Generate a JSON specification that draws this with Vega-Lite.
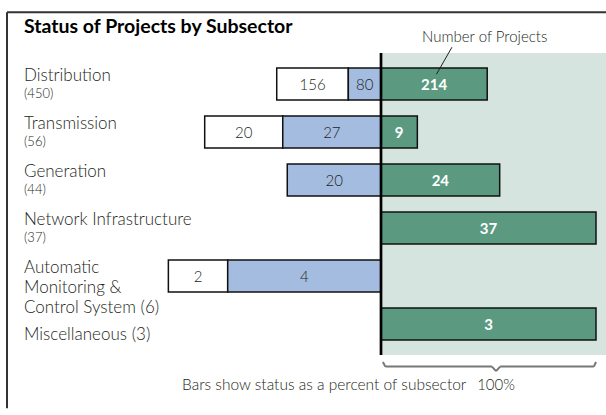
{
  "$schema": "https://vega.github.io/schema/vega-lite/v6.json",
  "width": 606,
  "height": 312,
  "autosize": {"type": "none"},
  "padding": {"top": 48, "left": 0, "right": 0, "bottom": 55},
  "background": "white",
  "title": {"text": "Status of Projects by Subsector", "anchor": "start", "frame": "group", "offset": -41, "dx": 24, "baseline": "alphabetic", "font": "Lato", "fontSize": 19.5, "fontWeight": "bold", "color": "#000000"},
  "config": {"view": {"stroke": null}, "text": {"font": "Lato"}},
  "datasets": {
    "segments": [
      {"row": 0, "subsector": "Distribution", "status": "white", "lo": -48.5, "hi": -15.2, "n": 156},
      {"row": 0, "subsector": "Distribution", "status": "blue", "lo": -15.2, "hi": 0, "n": 80},
      {"row": 0, "subsector": "Distribution", "status": "green", "lo": 0, "hi": 49.4, "n": 214},
      {"row": 1, "subsector": "Transmission", "status": "white", "lo": -82.0, "hi": -45.7, "n": 20},
      {"row": 1, "subsector": "Transmission", "status": "blue", "lo": -45.7, "hi": 0, "n": 27},
      {"row": 1, "subsector": "Transmission", "status": "green", "lo": 0, "hi": 16.9, "n": 9},
      {"row": 2, "subsector": "Generation", "status": "blue", "lo": -43.6, "hi": 0, "n": 20},
      {"row": 2, "subsector": "Generation", "status": "green", "lo": 0, "hi": 55.2, "n": 24},
      {"row": 3, "subsector": "Network Infrastructure", "status": "green", "lo": 0, "hi": 100, "n": 37},
      {"row": 4, "subsector": "Automatic Monitoring & Control System", "status": "white", "lo": -98.9, "hi": -71.3, "n": 2},
      {"row": 4, "subsector": "Automatic Monitoring & Control System", "status": "blue", "lo": -71.3, "hi": 0, "n": 4},
      {"row": 5, "subsector": "Miscellaneous", "status": "green", "lo": 0, "hi": 100, "n": 3}
    ],
    "labels": [
      {"row": 0, "main": "Distribution", "sub": "(450)"},
      {"row": 1, "main": "Transmission", "sub": "(56)"},
      {"row": 2, "main": "Generation", "sub": "(44)"},
      {"row": 3, "main": "Network Infrastructure", "sub": "(37)"},
      {"row": 4, "main": "Automatic\nMonitoring &\nControl System (6)"},
      {"row": 5, "alone": "Miscellaneous (3)"}
    ]
  },
  "data": {"name": "segments"},
  "layer": [
    {
      "data": {"values": [{}]},
      "mark": {"type": "rect", "fill": "#d5e4df"},
      "encoding": {
        "x": {"datum": 0, "type": "quantitative", "scale": {"domain": [-177.21, 104.65], "nice": false, "zero": false}, "axis": null},
        "x2": {"datum": 104.65},
        "y": {"datum": -0.645, "type": "quantitative", "scale": {"domain": [-0.645, 5.645], "reverse": true, "nice": false, "zero": false}, "axis": null},
        "y2": {"datum": 5.645}
      }
    },
    {
      "mark": {"type": "bar", "size": 32, "stroke": "#111111", "strokeWidth": 1.5},
      "encoding": {
        "x": {"field": "lo", "type": "quantitative"},
        "x2": {"field": "hi"},
        "y": {"field": "row", "type": "quantitative"},
        "color": {"field": "status", "type": "nominal", "scale": {"domain": ["white", "blue", "green"], "range": ["#ffffff", "#a4bce0", "#5b9a80"]}, "legend": null}
      }
    },
    {
      "data": {"values": [{}]},
      "mark": {"type": "rule", "color": "#000000", "strokeWidth": 2.7},
      "encoding": {
        "x": {"datum": 0, "type": "quantitative"},
        "y": {"datum": -0.645, "type": "quantitative"},
        "y2": {"datum": 5.645}
      }
    },
    {
      "transform": [{"filter": "datum.status != 'green'"}, {"fold": ["lo", "hi"], "as": ["edge", "v"]}],
      "mark": {"type": "text", "fontSize": 15, "fontWeight": 300, "color": "#231f20", "align": "center", "baseline": "middle", "dy": 1},
      "encoding": {
        "x": {"field": "v", "aggregate": "mean", "type": "quantitative"},
        "y": {"field": "row", "type": "quantitative"},
        "detail": {"field": "status", "type": "nominal"},
        "text": {"field": "n", "type": "quantitative"}
      }
    },
    {
      "transform": [{"filter": "datum.status == 'green'"}, {"fold": ["lo", "hi"], "as": ["edge", "v"]}],
      "mark": {"type": "text", "fontSize": 15, "fontWeight": "bold", "color": "#ffffff", "align": "center", "baseline": "middle", "dy": 1},
      "encoding": {
        "x": {"field": "v", "aggregate": "mean", "type": "quantitative"},
        "y": {"field": "row", "type": "quantitative"},
        "detail": {"field": "status", "type": "nominal"},
        "text": {"field": "n", "type": "quantitative"}
      }
    },
    {
      "data": {"name": "labels"},
      "transform": [{"filter": "isValid(datum.main)"}],
      "mark": {"type": "text", "align": "left", "baseline": "alphabetic", "dy": -3, "fontSize": 17, "fontWeight": 300, "lineBreak": "\n", "lineHeight": 20, "color": "#231f20"},
      "encoding": {
        "x": {"datum": -166.05, "type": "quantitative"},
        "y": {"field": "row", "type": "quantitative"},
        "text": {"field": "main", "type": "nominal"}
      }
    },
    {
      "data": {"name": "labels"},
      "transform": [{"filter": "isValid(datum.sub)"}],
      "mark": {"type": "text", "align": "left", "baseline": "alphabetic", "dy": 14, "fontSize": 13, "fontWeight": 300, "color": "#231f20"},
      "encoding": {
        "x": {"datum": -166.05, "type": "quantitative"},
        "y": {"field": "row", "type": "quantitative"},
        "text": {"field": "sub", "type": "nominal"}
      }
    },
    {
      "data": {"name": "labels"},
      "transform": [{"filter": "isValid(datum.alone)"}],
      "mark": {"type": "text", "align": "left", "baseline": "alphabetic", "dy": 16, "fontSize": 17, "fontWeight": 300, "color": "#231f20"},
      "encoding": {
        "x": {"datum": -166.05, "type": "quantitative"},
        "y": {"field": "row", "type": "quantitative"},
        "text": {"field": "alone", "type": "nominal"}
      }
    },
    {
      "data": {"values": [{}]},
      "mark": {"type": "text", "text": "Number of Projects", "align": "left", "baseline": "alphabetic", "fontSize": 15, "fontWeight": 300, "color": "#231f20"},
      "encoding": {
        "x": {"datum": 19.07, "type": "quantitative"},
        "y": {"datum": -0.867, "type": "quantitative"}
      }
    },
    {
      "data": {"values": [{}]},
      "mark": {"type": "rule", "color": "#231f20", "strokeWidth": 1},
      "encoding": {
        "x": {"datum": 33.0, "type": "quantitative"},
        "x2": {"datum": 25.8},
        "y": {"datum": -0.766, "type": "quantitative"},
        "y2": {"datum": -0.202}
      }
    },
    {
      "data": {"values": [{}]},
      "mark": {"type": "text", "text": "Bars show status as a percent of subsector", "align": "left", "baseline": "alphabetic", "fontSize": 15.5, "fontWeight": 300, "color": "#231f20"},
      "encoding": {
        "x": {"datum": -92.56, "type": "quantitative"},
        "y": {"datum": 6.371, "type": "quantitative"}
      }
    },
    {
      "data": {"values": [{}]},
      "mark": {"type": "text", "text": "100%", "align": "center", "baseline": "alphabetic", "fontSize": 15, "fontWeight": 300, "color": "#231f20"},
      "encoding": {
        "x": {"datum": 53.5, "type": "quantitative"},
        "y": {"datum": 6.371, "type": "quantitative"}
      }
    },
    {
      "data": {"values": [{}]},
      "mark": {"type": "rule", "color": "#777777", "strokeWidth": 2},
      "encoding": {
        "x": {"datum": 2.0, "type": "quantitative"},
        "x2": {"datum": 51.6},
        "y": {"datum": 5.887, "type": "quantitative"}
      }
    },
    {
      "data": {"values": [{}]},
      "mark": {"type": "rule", "color": "#777777", "strokeWidth": 2},
      "encoding": {
        "x": {"datum": 55.4, "type": "quantitative"},
        "x2": {"datum": 99.0},
        "y": {"datum": 5.887, "type": "quantitative"}
      }
    },
    {
      "data": {"values": [{}]},
      "mark": {"type": "rule", "color": "#777777", "strokeWidth": 2},
      "encoding": {
        "x": {"datum": 0.9, "type": "quantitative"},
        "x2": {"datum": 2.0},
        "y": {"datum": 5.79, "type": "quantitative"},
        "y2": {"datum": 5.887}
      }
    },
    {
      "data": {"values": [{}]},
      "mark": {"type": "rule", "color": "#777777", "strokeWidth": 2},
      "encoding": {
        "x": {"datum": 100.0, "type": "quantitative"},
        "x2": {"datum": 99.0},
        "y": {"datum": 5.79, "type": "quantitative"},
        "y2": {"datum": 5.887}
      }
    },
    {
      "data": {"values": [{}]},
      "mark": {"type": "rule", "color": "#777777", "strokeWidth": 2},
      "encoding": {
        "x": {"datum": 51.6, "type": "quantitative"},
        "x2": {"datum": 53.5},
        "y": {"datum": 5.887, "type": "quantitative"},
        "y2": {"datum": 5.98}
      }
    },
    {
      "data": {"values": [{}]},
      "mark": {"type": "rule", "color": "#777777", "strokeWidth": 2},
      "encoding": {
        "x": {"datum": 55.4, "type": "quantitative"},
        "x2": {"datum": 53.5},
        "y": {"datum": 5.887, "type": "quantitative"},
        "y2": {"datum": 5.98}
      }
    },
    {
      "data": {"values": [{}]},
      "mark": {"type": "rule", "color": "#333333", "strokeWidth": 2},
      "encoding": {
        "x": {"datum": -173.95, "type": "quantitative"},
        "x2": {"datum": 104.65},
        "y": {"datum": -1.492, "type": "quantitative"}
      }
    },
    {
      "data": {"values": [{}]},
      "mark": {"type": "rule", "color": "#333333", "strokeWidth": 2},
      "encoding": {
        "x": {"datum": -173.95, "type": "quantitative"},
        "y": {"datum": -1.492, "type": "quantitative"},
        "y2": {"datum": 6.754}
      }
    }
  ]
}
